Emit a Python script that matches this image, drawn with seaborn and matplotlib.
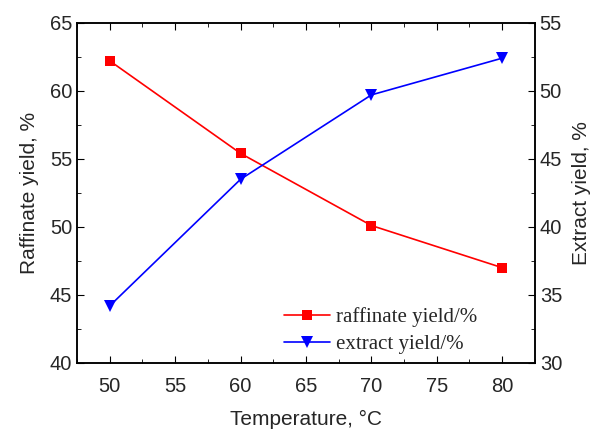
import numpy as np
import seaborn as sns
import matplotlib.pyplot as plt
from matplotlib.ticker import MultipleLocator

sns.set_style('ticks')
plt.rcParams['font.family'] = ['Liberation Sans', 'DejaVu Sans']

# data
temperature = [50, 60, 70, 80]
raffinate = [62.2, 55.4, 50.1, 47.0]
extract = [34.2, 43.5, 49.7, 52.4]

fig, ax = plt.subplots(figsize=(5.93, 4.30), dpi=100)
ax2 = ax.twinx()

sns.lineplot(x=temperature, y=raffinate, ax=ax, color='#ff0000', marker='s',
             markersize=7, markeredgewidth=0, linewidth=1.2, label='raffinate yield/%', legend=False)
sns.lineplot(x=temperature, y=extract, ax=ax2, color='#0000ff', marker='v',
             markersize=9, markeredgewidth=0, linewidth=1.2, label='extract yield/%', legend=False)

ax.set_xlim(47.5, 82.5)
ax.set_ylim(40, 65)
ax2.set_ylim(30, 55)
ax.xaxis.set_major_locator(MultipleLocator(5))
ax.xaxis.set_minor_locator(MultipleLocator(2.5))
ax.yaxis.set_major_locator(MultipleLocator(5))
ax.yaxis.set_minor_locator(MultipleLocator(2.5))
ax2.yaxis.set_major_locator(MultipleLocator(5))
ax2.yaxis.set_minor_locator(MultipleLocator(2.5))

ax.tick_params(axis='both', which='both', direction='in', top=True, labelsize=14.5, color='black')
ax.tick_params(which='major', length=5)
ax.tick_params(which='minor', length=3)
ax.tick_params(axis='x', pad=10)
ax2.tick_params(axis='y', which='both', direction='in', labelsize=14.5, color='black')
ax2.tick_params(which='major', length=5)
ax2.tick_params(which='minor', length=3)

for a in (ax, ax2):
    for s in a.spines.values():
        s.set_linewidth(1.1)
        s.set_color('black')
        s.set_visible(True)

ax.set_xlabel('Temperature, °C', fontsize=15, labelpad=10)
ax.set_ylabel('Raffinate yield, %', fontsize=15, labelpad=8)
ax2.set_ylabel('Extract yield, %', fontsize=15, labelpad=7)

h1, l1 = ax.get_legend_handles_labels()
h2, l2 = ax2.get_legend_handles_labels()
ax2.legend(h1 + h2, l1 + l2, loc='lower right', bbox_to_anchor=(0.915, -0.03),
           frameon=False, prop={'family': 'Liberation Serif', 'size': 15},
           handlelength=2.2, handletextpad=0.3, labelspacing=0.35)

plt.subplots_adjust(left=0.13, right=0.902, top=0.947, bottom=0.156)
plt.savefig('out.png', dpi=100)
